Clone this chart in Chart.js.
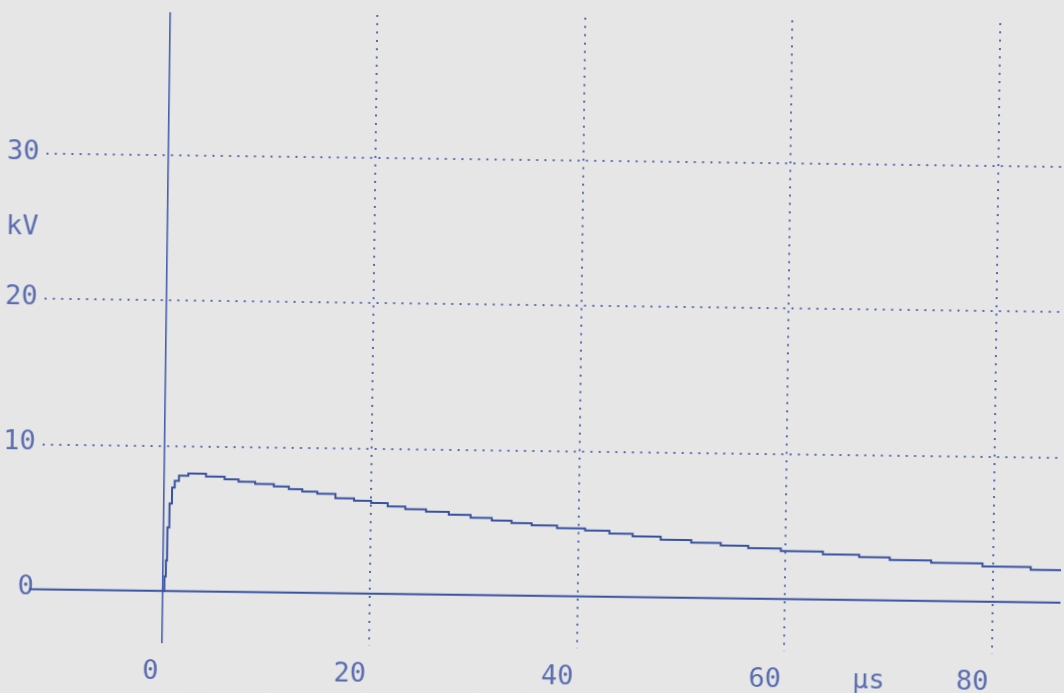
<!DOCTYPE html>
<html>
<head>
<meta charset="utf-8">
<script src="https://cdn.jsdelivr.net/npm/chart.js@4/dist/chart.umd.min.js"></script>
<style>
  html, body { margin: 0; padding: 0; background: #e6e6e6; overflow: hidden; }
  #wrap { position: absolute; left: 0; top: 0; width: 1064px; height: 693px;
          transform: rotate(0.75deg); transform-origin: 532px 346px; }
  canvas { background: #e6e6e6; }
</style>
</head>
<body>
<div id="wrap"><canvas id="c" width="1064" height="693"></canvas></div>
<script>
// time in microseconds, voltage in kV
const timeUs = [0.1, 0.25, 0.35, 0.45, 0.7, 0.9, 1.2, 1.7, 3.0, 5.1, 6.6, 7.8, 9.8, 11.4, 12.7, 14.0, 15.6, 17.5, 19.2, 20.8, 22.4, 24.2, 26.4, 28.6, 30.6, 32.7, 34.4, 36.6, 39.3, 42.0, 44.0, 46.5, 49.4, 52.4, 55.1, 57.7, 61.4, 65.8, 68.4, 71.7, 76.4, 81.6, 85.7, 88.0];
const voltageKV = [0, 1.0, 2.1, 4.37, 6.02, 7.12, 7.6, 7.96, 8.11, 7.92, 7.75, 7.6, 7.45, 7.30, 7.13, 6.97, 6.83, 6.55, 6.38, 6.25, 6.03, 5.86, 5.70, 5.51, 5.32, 5.15, 5.0, 4.85, 4.68, 4.54, 4.35, 4.18, 3.97, 3.81, 3.64, 3.48, 3.30, 3.12, 2.96, 2.78, 2.63, 2.43, 2.24, 2.15];
const baselineTime = [-12.8, 88];
const baselineKV = [0, 0];
const xTickValues = [0, 20, 40, 60, 70, 80];
const xTickLabels = ['0', '20', '40', '60', 'µs', '80'];
const yTickValues = [0, 10, 20, 24.8, 30];
const yTickLabels = ['0', '10', '20', 'kV', '30'];
const unitTicksX = [70];
const unitTicksY = [24.8];

const lineColor = '#3852a0';
const gridColor = '#5468b4';
const textColor = '#5a6db0';
const font = { family: 'DejaVu Sans Mono', size: 27 };

new Chart(document.getElementById('c'), {
  type: 'line',
  data: {
    datasets: [
      {
        data: timeUs.map((t, i) => ({ x: t, y: voltageKV[i] })),
        borderColor: lineColor, borderWidth: 2, pointRadius: 0,
        stepped: 'middle', fill: false, clip: false
      },
      {
        data: baselineTime.map((t, i) => ({ x: t, y: baselineKV[i] })),
        borderColor: lineColor, borderWidth: 2.2, pointRadius: 0,
        fill: false, clip: false
      }
    ]
  },
  options: {
    responsive: false,
    animation: false,
    devicePixelRatio: 1,
    layout: { padding: { top: 17, right: 0, left: 0, bottom: 0 } },
    plugins: { legend: { display: false }, tooltip: { enabled: false } },
    scales: {
      x: {
        type: 'linear', min: -11.73, max: 86.58,
        afterBuildTicks: s => { s.ticks = xTickValues.map(v => ({ value: v })); },
        afterFit: s => { s.height = 45; s.paddingLeft = 0; s.paddingRight = 0; },
        ticks: {
          autoSkip: false, maxRotation: 0, align: 'end', padding: 13, labelOffset: -3,
          color: textColor, font: font,
          callback: v => xTickLabels[xTickValues.indexOf(v)]
        },
        grid: {
          drawTicks: false,
          color: c => unitTicksX.includes(c.tick.value) ? 'rgba(0,0,0,0)' : (c.tick.value === 0 ? '#4660ac' : gridColor),
          lineWidth: c => c.tick.value === 0 ? 1.6 : 2
        },
        border: { display: false, dash: c => (c.tick && c.tick.value === 0) ? [] : [2, 6.3] }
      },
      y: {
        type: 'linear', min: -3.6, max: 39.86,
        afterBuildTicks: s => { s.ticks = yTickValues.map(v => ({ value: v })); },
        afterFit: s => { s.width = 44; s.paddingTop = 0; s.paddingBottom = 0; },
        ticks: {
          autoSkip: false, padding: 7, labelOffset: -1.5,
          color: textColor, font: font,
          callback: v => yTickLabels[yTickValues.indexOf(v)]
        },
        grid: {
          drawTicks: false,
          color: c => (unitTicksY.includes(c.tick.value) || c.tick.value === 0) ? 'rgba(0,0,0,0)' : gridColor,
          lineWidth: 2
        },
        border: { display: false, dash: [2, 6.3] }
      }
    }
  }
});
</script>
</body>
</html>
